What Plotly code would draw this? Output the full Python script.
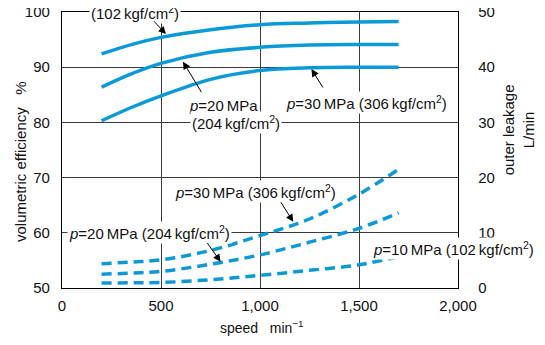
import plotly.graph_objects as go

# ---- data ----
speed = [200, 350, 500, 750, 1000, 1250, 1500, 1700]

eff_10MPa = [92.4, 94.1, 95.4, 96.8, 97.7, 98.0, 98.2, 98.3]
eff_20MPa = [86.4, 88.8, 90.7, 92.7, 93.6, 94.0, 94.1, 94.1]
eff_30MPa = [80.3, 82.7, 84.8, 87.8, 89.4, 89.9, 90.0, 90.0]

leak_10MPa = [0.9, 0.95, 1.0, 1.5, 2.3, 3.2, 4.2, 5.7]
leak_20MPa = [2.5, 2.7, 3.0, 4.3, 6.0, 8.3, 10.8, 13.6]
leak_30MPa = [4.4, 4.7, 5.1, 6.8, 9.5, 12.5, 17.0, 21.5]

x_ticks = [0, 500, 1000, 1500, 2000]
x_ticklabels = ["0", "500", "1,000", "1,500", "2,000"]
eff_ticks = [50, 60, 70, 80, 90, 100]
leak_ticks = [0, 10, 20, 30, 40, 50]

BLUE = "#0a9ad8"
FONT = "Liberation Sans, Arial, sans-serif"
TXT = "#111111"

fig = go.Figure()
for ys in (eff_10MPa, eff_20MPa, eff_30MPa):
    fig.add_trace(go.Scatter(x=speed, y=ys, mode="lines", yaxis="y",
                             line=dict(color=BLUE, width=3.5, shape="spline"),
                             showlegend=False, hoverinfo="skip"))
for ys in (leak_10MPa, leak_20MPa, leak_30MPa):
    fig.add_trace(go.Scatter(x=speed, y=ys, mode="lines", yaxis="y2",
                             line=dict(color=BLUE, width=3.5, shape="spline", dash="10px,6px"),
                             showlegend=False, hoverinfo="skip"))

# page body has an 8px margin: figure sized/margined so the plot area lands at
# x 62..458, y 12..288 in the window
fig.update_layout(
    width=529, height=329,
    margin=dict(l=54, r=79, t=4, b=49, autoexpand=False),
    paper_bgcolor="white", plot_bgcolor="white",
    font=dict(family=FONT, size=15, color=TXT),
    xaxis=dict(range=[0, 2000], tickvals=x_ticks, ticktext=x_ticklabels,
               showgrid=True, gridcolor="#3a3a3a", gridwidth=1,
               showline=True, linecolor="black", linewidth=1.3, mirror=True,
               ticks="", ticklabelstandoff=4, zeroline=False, automargin=False,
               ticklabeloverflow="allow",
               tickfont=dict(size=15, color=TXT)),
    yaxis=dict(range=[50, 100], tickvals=eff_ticks,
               showgrid=True, gridcolor="#3a3a3a", gridwidth=1,
               showline=True, linecolor="black", linewidth=1.3,
               ticks="", ticklabelstandoff=8, zeroline=False, automargin=False,
               ticklabeloverflow="allow",
               tickfont=dict(size=15, color=TXT)),
    yaxis2=dict(range=[0, 50], tickvals=leak_ticks, overlaying="y", side="right",
                showgrid=False, showline=True, linecolor="black", linewidth=1.3,
                ticks="", ticklabelstandoff=16, zeroline=False, automargin=False,
                ticklabeloverflow="allow",
                tickfont=dict(size=15, color=TXT)),
)

ann = []
def label(text, x, y, bg=True, yshift=0):
    ann.append(dict(text=text, x=x, y=y, xref="x", yref="y", showarrow=False,
                    xanchor="center", yanchor="middle",
                    bgcolor="white" if bg else "rgba(0,0,0,0)", borderpad=1,
                    font=dict(size=15, color=TXT), yshift=yshift))

def arrow(x, y, ax, ay):
    ann.append(dict(text=" ", x=x, y=y, xref="x", yref="y", ax=ax, ay=ay,
                    showarrow=True, arrowhead=2, arrowsize=1.5, arrowwidth=1,
                    arrowcolor="black", font=dict(size=2)))

TS = "\u2009"
label(f"<i>p</i>=10{TS}MPa", 293, 100, bg=False, yshift=17)
label(f"(102{TS}kgf/cm<sup>2</sup>)", 369, 100)
label(f"<i>p</i>=20{TS}MPa", 818, 83.0, bg=False)
label(f"(204{TS}kgf/cm<sup>2</sup>)", 881, 80.0)
label(f"<i>p</i>=30{TS}MPa (306{TS}kgf/cm<sup>2</sup>)", 1540, 83.55)
label(f"<i>p</i>=30{TS}MPa (306{TS}kgf/cm<sup>2</sup>)", 975, 67.46)
label(f"<i>p</i>=20{TS}MPa (204{TS}kgf/cm<sup>2</sup>)", 444, 60.0)
label(f"<i>p</i>=10{TS}MPa (102{TS}kgf/cm<sup>2</sup>)", 1975, 57.2)

arrow(525, 96.0, -14, -15)
arrow(611, 91.0, 20, 33)
arrow(1260, 89.66, 13, 21)
arrow(1168, 62.0, -14, -22)
arrow(801, 54.77, -15, -21)

NB = "\u00a0"
def title(text, x, y, angle=0, size=15):
    ann.append(dict(text=text, x=x, y=y, xref="paper", yref="paper",
                    xanchor="center", yanchor="middle", showarrow=False,
                    textangle=angle, font=dict(size=size, color=TXT)))

title(f"volumetric efficiency{NB*3}%", -0.106, 0.4565, -90)
title("outer leakage<br>L/min", 1.155, 0.5725, -90)
title(f"speed{NB*3}min<sup>\u22121</sup>", 0.505, -0.141, 0, 14)

fig.update_layout(annotations=ann)
fig.write_html("out.html")
